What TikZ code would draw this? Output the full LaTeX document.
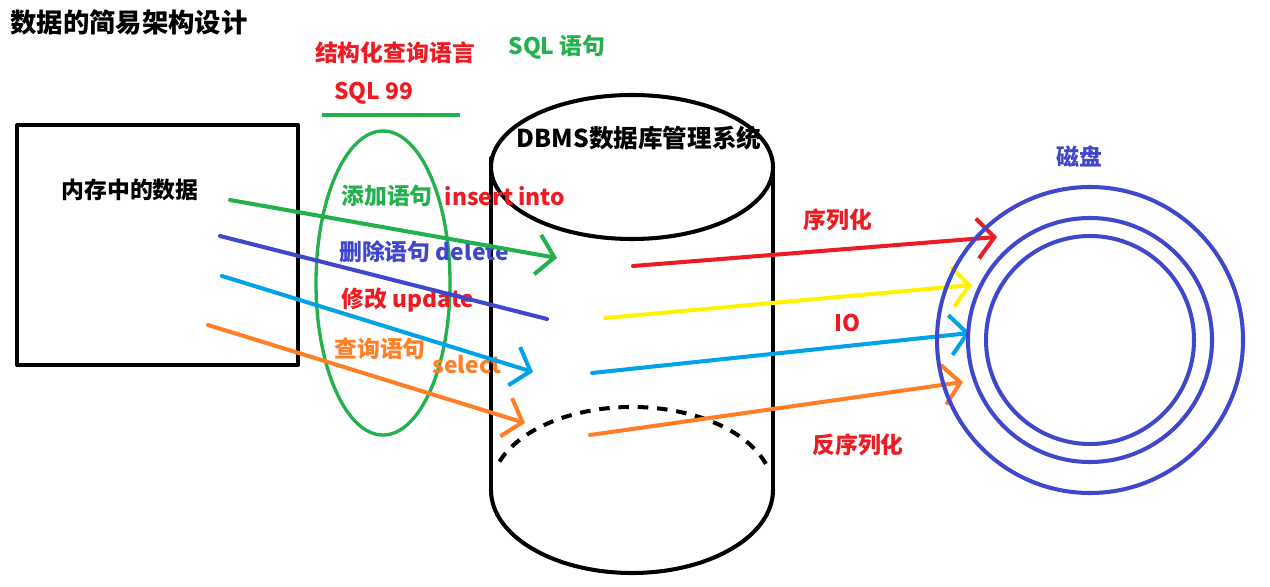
\documentclass[tikz,border=0pt]{standalone}
\usepackage{fontspec}
\setmainfont{Noto Sans CJK SC}
\usetikzlibrary{arrows.meta}

\definecolor{pred}{HTML}{ED1C24}
\definecolor{pgreen}{HTML}{22B14C}
\definecolor{pindigo}{HTML}{3F48CC}
\definecolor{pcyan}{HTML}{00A2E8}
\definecolor{porange}{HTML}{FF7F27}
\definecolor{pyellow}{HTML}{FFF200}

\tikzset{
  pen/.style={line width=2.3pt, line cap=round, line join=round},
  vhead/.style={-{Straight Barb[length=3.4mm, width=8mm]}},
  lbl/.style={font=\bfseries\fontsize{13}{13}\selectfont, inner sep=0pt}
}

\begin{document}
\begin{tikzpicture}[x=0.02cm, y=-0.02cm]
  \useasboundingbox (0,0) rectangle (1270,587);

  % Titel und Überschriften
  \node[lbl, font=\bfseries\fontsize{15}{15}\selectfont] (title) at (129,22) {数据的简易架构设计};
  \node[lbl, pred] (sqlname) at (395,53) {结构化查询语言};
  \node[lbl, pred] (sql99) at (374,93) {SQL 99};
  \node[lbl, pgreen] (sqlstmt) at (557,47) {SQL 语句};
  \coordinate (ulA) at (322,115);
  \coordinate (ulB) at (460,115);
  \draw[pgreen, line width=2pt] (ulA) -- (ulB);

  % Speicher
  \draw[pen] (17,125) rectangle (298,365);
  \node[lbl, black] (mem) at (130,190) {内存中的数据};

  % Datenbank-Zylinder
  \draw[pen] (632,167) ellipse [x radius=141, y radius=72];
  \draw[pen] (491,158) -- (491,490);
  \draw[pen] (773,167) -- (773,490);
  \draw[pen] (773,490) arc [start angle=0, end angle=180, x radius=141, y radius=83];
  \draw[pen, dash pattern=on 6pt off 5pt, line cap=butt] (499.5,461.6) arc [start angle=200, end angle=345, x radius=141, y radius=83];
  \node[lbl, black, font=\bfseries\fontsize{14}{14}\selectfont] (dbms) at (639,138) {DBMS数据库管理系统};

  % SQL-Ellipse
  \draw[pgreen, line width=1.9pt] (383,283) ellipse [x radius=67, y radius=152];

  % Anweisungen
  \node[lbl, pgreen] (insertcn) at (387,196) {添加语句};
  \node[lbl, pred] (insert) at (505,196) {insert into};
  \node[lbl, pindigo] (delete) at (424,252) {删除语句 delete};
  \node[lbl, pred] (update) at (408,300) {修改 update};
  \node[lbl, porange] (selectcn) at (380,349) {查询语句};
  \node[lbl, porange] (select) at (467,365) {select};

  % Pfeile Speicher -> DBMS
  \coordinate (g1) at (230,200);  \coordinate (g2) at (557,258);
  \coordinate (b1) at (220,236);  \coordinate (b2) at (547,319);
  \coordinate (c1) at (222,276);  \coordinate (c2) at (533,372);
  \coordinate (o1) at (208,325);  \coordinate (o2) at (525,423);
  \draw[pen, vhead, pgreen] (g1) -- (g2);
  \draw[pen, pindigo] (b1) -- (b2);
  \draw[pen, vhead, pcyan] (c1) -- (c2);
  \draw[pen, vhead, porange] (o1) -- (o2);

  % Pfeile DBMS -> Festplatte
  \coordinate (r1) at (633,266);  \coordinate (r2) at (997,237);
  \coordinate (y1) at (605,318);  \coordinate (y2) at (972,285);
  \coordinate (k1) at (592,373);  \coordinate (k2) at (970,333);
  \coordinate (p1) at (590,435);  \coordinate (p2) at (963,382);
  \draw[pen, vhead, pred] (r1) -- (r2);
  \draw[pen, vhead, pyellow] (y1) -- (y2);
  \draw[pen, vhead, pcyan] (k1) -- (k2);
  \draw[pen, vhead, porange] (p1) -- (p2);
  \node[lbl, pred] (ser) at (838,220) {序列化};
  \node[lbl, pred] (io) at (847,323) {IO};
  \node[lbl, pred] (deser) at (858,445) {反序列化};

  % Festplatte
  \coordinate (disk) at (1090,340);
  \foreach \r in {153,122,104}
    \draw[pindigo, line width=2.3pt] (disk) circle [radius=\r];
  \node[lbl, pindigo] (disklbl) at (1079,157) {磁盘};
\end{tikzpicture}
\end{document}
